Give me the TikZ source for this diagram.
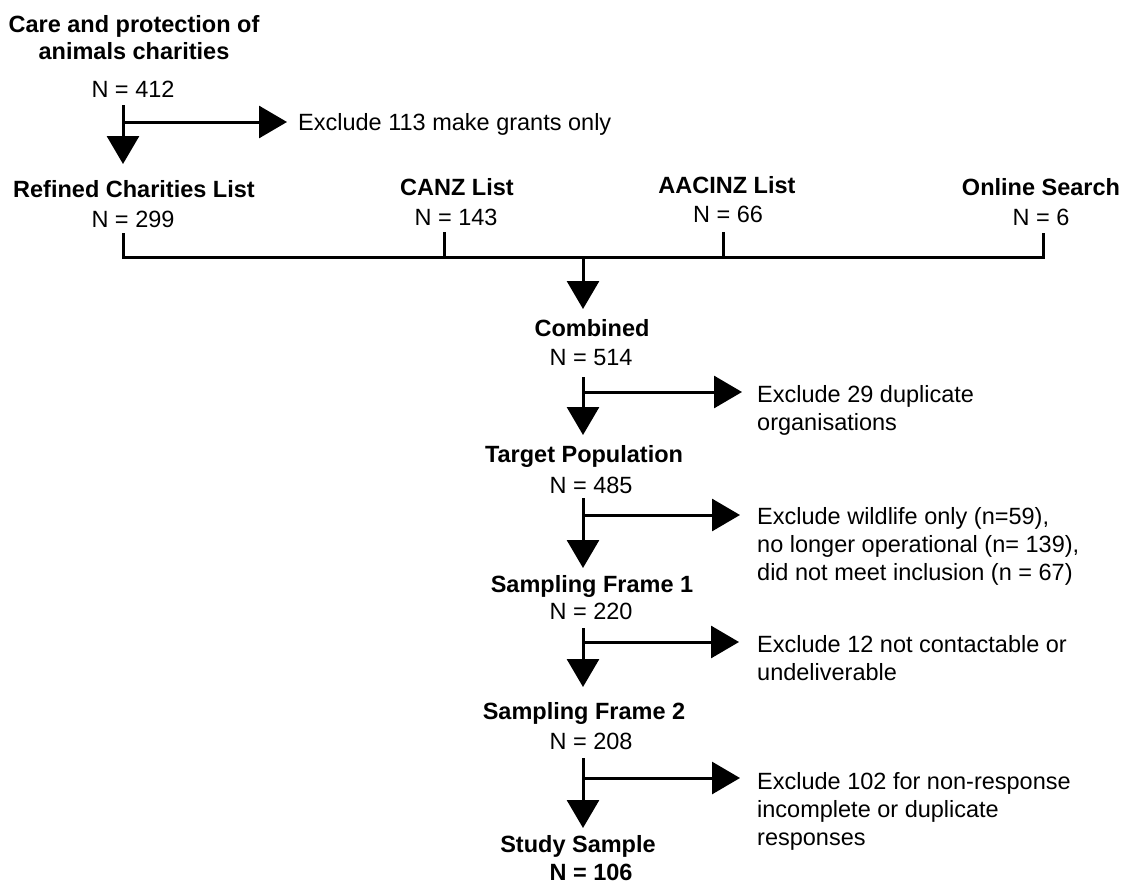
\documentclass[tikz,border=0pt]{standalone}
\usepackage{fontspec}
\setmainfont{Liberation Sans}
\usetikzlibrary{arrows.meta}
\begin{document}
\begin{tikzpicture}[x=1pt,y=-1pt,
  lbl/.style={inner sep=0pt, anchor=base, font=\fontsize{23.5}{28}\selectfont},
  blbl/.style={inner sep=0pt, anchor=base, font=\fontsize{23.5}{28}\selectfont\bfseries},
  excl/.style={inner sep=0pt, anchor=north west, align=left, font=\fontsize{23.5}{28}\selectfont},
  conn/.style={line width=3pt},
  arr/.style={conn, -{Triangle[width=32pt,length=28pt]}}]
\path[use as bounding box] (0,0) rectangle (1127,894);

% top block
\node[blbl] (care1) at (134,32) {Care and protection of};
\node[blbl] (care2) at (134,59) {animals charities};
\node[lbl] (n412) at (133,97) {N = 412};
\node[lbl, anchor=base west] (excl1) at (298,130) {Exclude 113 make grants only};

% sources
\node[blbl] (refined) at (134,197) {Refined Charities List};
\node[lbl] (n299) at (133,227) {N = 299};
\node[blbl] (canz) at (457,195) {CANZ List};
\node[lbl] (n143) at (456,225) {N = 143};
\node[blbl] (aacinz) at (727,193) {AACINZ List};
\node[lbl] (n66) at (728,222) {N = 66};
\node[blbl] (online) at (1041,195) {Online Search};
\node[lbl] (n6) at (1041,225) {N = 6};

% main column
\node[blbl] (combined) at (592,336) {Combined};
\node[lbl] (n514) at (591,365) {N = 514};
\node[blbl] (target) at (584,462) {Target Population};
\node[lbl] (n485) at (591,493) {N = 485};
\node[blbl] (sf1) at (592,592) {Sampling Frame 1};
\node[lbl] (n220) at (591,619) {N = 220};
\node[blbl] (sf2) at (584,719) {Sampling Frame 2};
\node[lbl] (n208) at (591,749) {N = 208};
\node[blbl] (study) at (578,852) {Study Sample};
\node[blbl] (n106) at (591,880) {N = 106};

% exclusions
\node[excl] (excl2) at (757,385) {Exclude 29 duplicate\\organisations};
\node[excl] (excl3) at (757,507) {Exclude wildlife only (n=59),\\no longer operational (n= 139),\\did not meet inclusion (n = 67)};
\node[excl] (excl4) at (757,635) {Exclude 12 not contactable or\\undeliverable};
\node[excl] (excl5) at (757,772) {Exclude 102 for non-response\\incomplete or duplicate\\responses};

% coordinates
\coordinate (s0) at (123,105);
\coordinate (t0) at (123,164);
\coordinate (b0) at (123,122);
\coordinate (e0) at (287,122);

\coordinate (r0) at (123,233);
\coordinate (r1) at (123,257);
\coordinate (k1) at (444,232);
\coordinate (k1b) at (444,257);
\coordinate (k2) at (723,232);
\coordinate (k2b) at (723,257);
\coordinate (k3) at (1043,233);
\coordinate (k3b) at (1043,257);
\coordinate (m0) at (583,257);
\coordinate (m1) at (583,309);

\coordinate (s1) at (583,377);
\coordinate (t1) at (583,435);
\coordinate (b1) at (583,392);
\coordinate (e1) at (742,392);

\coordinate (s2) at (583,498);
\coordinate (t2) at (583,568);
\coordinate (b2) at (583,515);
\coordinate (e2) at (740,515);

\coordinate (s3) at (583,628);
\coordinate (t3) at (583,687);
\coordinate (b3) at (583,642);
\coordinate (e3) at (739,642);

\coordinate (s4) at (583,758);
\coordinate (t4) at (583,828);
\coordinate (b4) at (583,778);
\coordinate (e4) at (740,778);

% connectors
\draw[arr] (s0) -- (t0);
\draw[arr] (b0) -- (e0);

\draw[conn] (r0) -- (r1) -- (k3b) -- (k3);
\draw[conn] (k1) -- (k1b);
\draw[conn] (k2) -- (k2b);
\draw[arr] (m0) -- (m1);

\draw[arr] (s1) -- (t1);
\draw[arr] (b1) -- (e1);
\draw[arr] (s2) -- (t2);
\draw[arr] (b2) -- (e2);
\draw[arr] (s3) -- (t3);
\draw[arr] (b3) -- (e3);
\draw[arr] (s4) -- (t4);
\draw[arr] (b4) -- (e4);
\end{tikzpicture}
\end{document}
